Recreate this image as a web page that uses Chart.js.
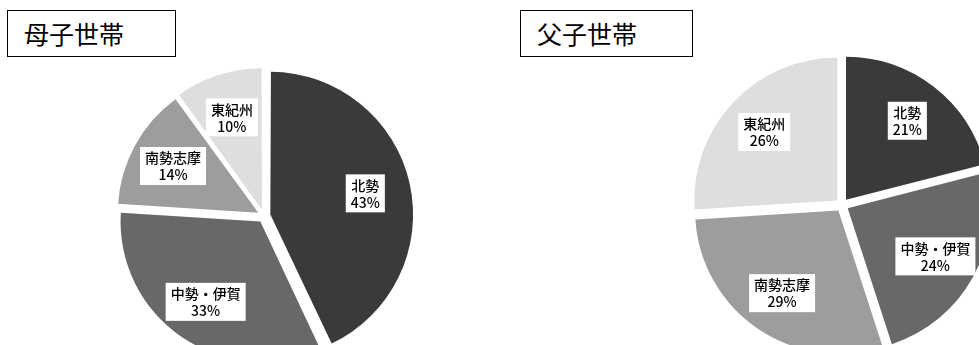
<!DOCTYPE html>
<html lang="ja">
<head>
<meta charset="utf-8">
<title>母子世帯・父子世帯</title>
<script src="https://cdn.jsdelivr.net/npm/chart.js@4/dist/chart.umd.min.js"></script>
<style>
  html, body { margin: 0; padding: 0; background: #fff; overflow: hidden; width: 979px; height: 345px; }
  body { position: relative; font-family: "Noto Sans CJK JP", sans-serif; }
  .title-box {
    position: absolute; box-sizing: border-box; height: 47px; top: 10px;
    border: 1.5px solid #000; background: #fff;
    font-size: 25px; line-height: 44px; padding-left: 16px; color: #000;
  }
  canvas { position: absolute; top: 0; }
</style>
</head>
<body>
<div class="title-box" style="left:7px;width:169px;">母子世帯</div>
<div class="title-box" style="left:520px;width:173px;">父子世帯</div>
<canvas id="mother-chart" width="528" height="432" style="left:0"></canvas>
<canvas id="father-chart" width="324" height="410" style="left:680px"></canvas>
<script>
// Data for the two pies (percent)
const regions = ['北勢', '中勢・伊賀', '南勢志摩', '東紀州'];
const motherValues = [43, 33, 14, 10];
const fatherValues = [21, 24, 29, 26];
const sliceColors = ['#3a3a3a', '#686868', '#9d9d9d', '#dedede'];

// white boxes with region name and percent inside each slice
const sliceLabels = {
    id: 'sliceLabels',
    afterDatasetsDraw(chart) {
        const ctx = chart.ctx;
        const meta = chart.getDatasetMeta(0);
        const values = chart.data.datasets[0].data;
        const total = values.reduce((a, b) => a + b, 0);
        ctx.save();
        ctx.font = '500 14px "Noto Sans CJK JP", sans-serif';
        ctx.textAlign = 'center';
        ctx.textBaseline = 'middle';
        meta.data.forEach((arc, i) => {
            const mid = (arc.startAngle + arc.endAngle) / 2;
            const off = (arc.options.offset || 0) / 4; // chart.js moves arcs by offset/4
            const d = arc.outerRadius * 0.7 + off;
            const x = arc.x + Math.cos(mid) * d;
            const y = arc.y + Math.sin(mid) * d;
            const name = chart.data.labels[i];
            const pct = Math.round(values[i] / total * 100) + '%';
            const w = Math.max(ctx.measureText(name).width, ctx.measureText(pct).width) + 10;
            const h = 38;
            ctx.fillStyle = '#fff';
            ctx.fillRect(x - w / 2, y - h / 2, w, h);
            ctx.fillStyle = '#000';
            ctx.fillText(name, x, y - 8);
            ctx.fillText(pct, x, y + 9);
        });
        ctx.restore();
    }
};

function makePie(id, values, radius) {
    const ctx = document.getElementById(id).getContext('2d');
    return new Chart(ctx, {
        type: 'pie',
        data: {
            labels: regions,
            datasets: [{
                data: values,
                backgroundColor: sliceColors,
                borderWidth: 0,
                offset: 26
            }]
        },
        options: {
            responsive: false,
            animation: false,
            radius: radius,
            layout: { padding: 0 },
            plugins: {
                legend: { display: false },
                tooltip: { enabled: false }
            }
        },
        plugins: [sliceLabels]
    });
}

makePie('mother-chart', motherValues, 139);
makePie('father-chart', fatherValues, 143);
</script>
</body>
</html>
